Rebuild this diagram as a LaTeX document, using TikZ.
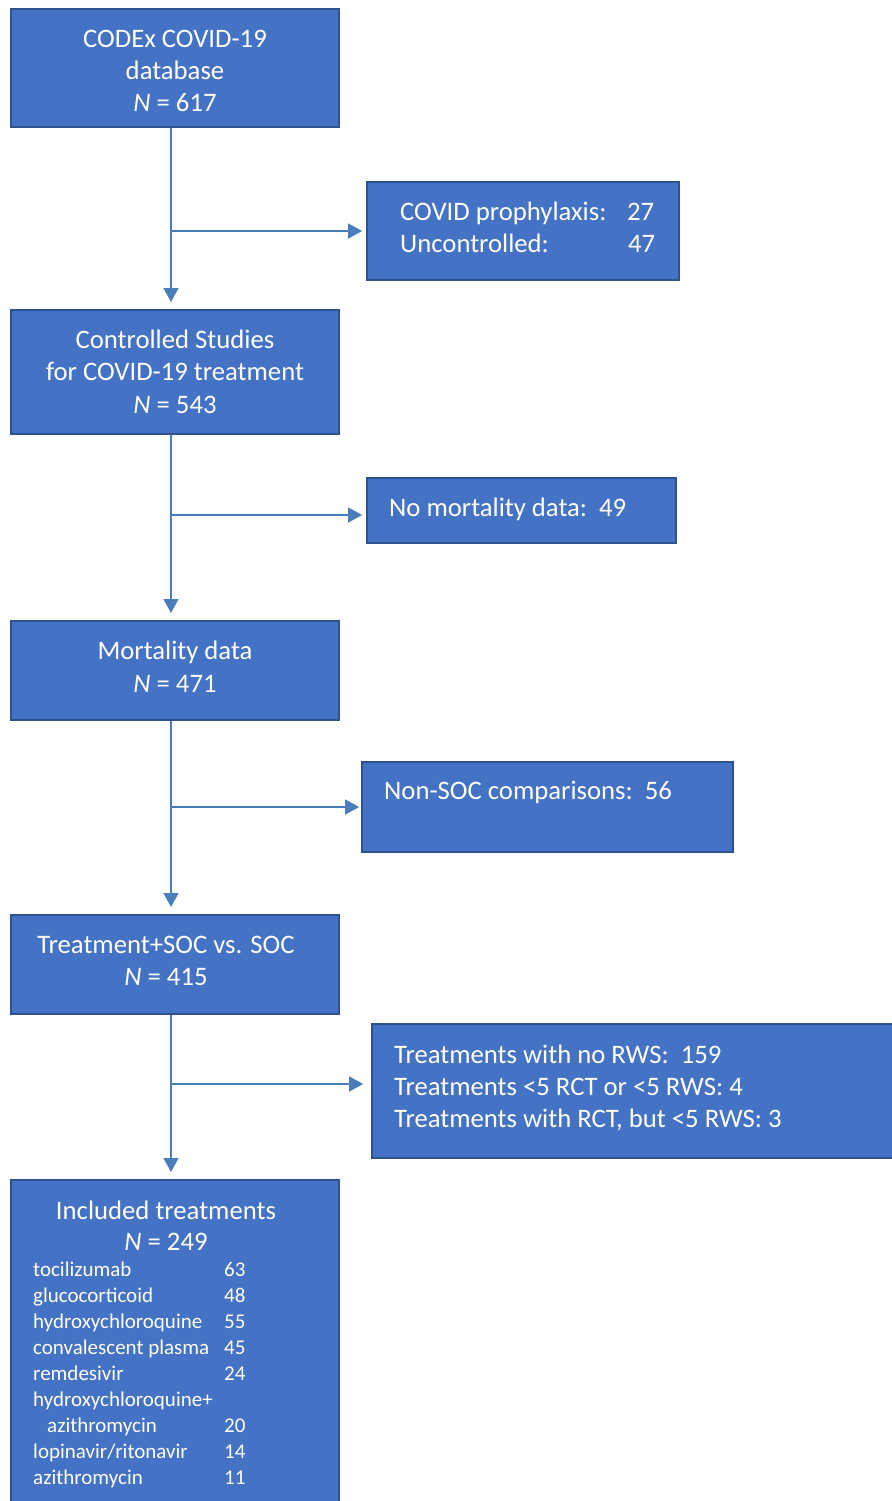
\documentclass[tikz,border=0pt]{standalone}
\usepackage{fontspec}
\setmainfont{Carlito}
\usetikzlibrary{arrows.meta}
\definecolor{boxfill}{HTML}{4472C4}
\definecolor{boxline}{HTML}{2F528F}
\definecolor{arrowc}{HTML}{4A7EBB}
\tikzset{
  box/.style={draw=boxline, line width=1.8pt, fill=boxfill, rectangle, inner sep=0pt},
  big/.style={text=white, font=\fontsize{26.7}{32}\selectfont, inner sep=0pt},
  small/.style={text=white, font=\fontsize{21}{26}\selectfont, inner sep=0pt},
  conn/.style={draw=arrowc, line width=1.6pt, -{Triangle[length=14pt,width=15pt]}},
}
\begin{document}
\begin{tikzpicture}[x=1pt,y=-1pt]
\useasboundingbox (0,0) rectangle (891,1501);
% boxes
\node[box, minimum width=328pt, minimum height=118pt] (b1) at (175,68) {};
\node[box, minimum width=312pt, minimum height=98pt] (b2) at (523,231) {};
\node[box, minimum width=328pt, minimum height=124pt] (b3) at (175,372) {};
\node[box, minimum width=309pt, minimum height=65pt] (b4) at (521.5,510.5) {};
\node[box, minimum width=328pt, minimum height=99pt] (b5) at (175,670.5) {};
\node[box, minimum width=371pt, minimum height=90pt] (b6) at (547.5,807) {};
\node[box, minimum width=328pt, minimum height=99pt] (b7) at (175,964.5) {};
\node[box, minimum width=530pt, minimum height=134pt] (b8) at (637,1091) {};
\node[box, minimum width=328pt, minimum height=340pt] (b9) at (175,1350) {};
% texts
\node[big, anchor=base] (t1a) at (175,48) {CODEx COVID-19};
\node[big, anchor=base] (t1b) at (175,80) {database};
\node[big, anchor=base] (t1c) at (175,112) {\textit{N} = 617};
\node[big, anchor=base west] (t2a) at (400,220) {COVID prophylaxis:};
\node[big, anchor=base west] (t2b) at (627,220) {27};
\node[big, anchor=base west] (t2c) at (400,252) {Uncontrolled:};
\node[big, anchor=base west] (t2d) at (628,252) {47};
\node[big, anchor=base] (t3a) at (175,348) {Controlled Studies};
\node[big, anchor=base] (t3b) at (175,380) {for COVID-19 treatment};
\node[big, anchor=base] (t3c) at (175,413) {\textit{N} = 543};
\node[big, anchor=base west] (t4) at (389,516) {No mortality data:\ \ 49};
\node[big, anchor=base] (t5a) at (175,659) {Mortality data};
\node[big, anchor=base] (t5b) at (175,692) {\textit{N} = 471};
\node[big, anchor=base west] (t6) at (384,799) {Non-SOC comparisons:\ \ 56};
\node[big, anchor=base] (t7a) at (166,953) {Treatment+SOC vs. SOC};
\node[big, anchor=base] (t7b) at (166,985) {\textit{N} = 415};
\node[big, anchor=base west] (t8a) at (394,1063) {Treatments with no RWS:\ \ 159};
\node[big, anchor=base west] (t8b) at (394,1095) {Treatments <5 RCT or <5 RWS: 4};
\node[big, anchor=base west] (t8c) at (394,1127) {Treatments with RCT, but <5 RWS: 3};
\node[big, anchor=base] (t9a) at (166,1219) {Included treatments};
\node[big, anchor=base] (t9b) at (166,1250) {\textit{N} = 249};
\node[small, anchor=north west] (t9c) at (33,1258) {%
\begin{tabular}{@{}p{191pt}@{}l@{}}
tocilizumab & 63\\
glucocorticoid & 48\\
hydroxychloroquine & 55\\
convalescent plasma & 45\\
remdesivir & 24\\
hydroxychloroquine+ & \\
\hspace*{14pt}azithromycin & 20\\
lopinavir/ritonavir & 14\\
azithromycin & 11
\end{tabular}};
% connectors
\coordinate (j1) at (171,231);
\coordinate (j2) at (171,515);
\coordinate (j3) at (171,807);
\coordinate (j4) at (171,1084);
\coordinate (e1) at (171,310);
\coordinate (e2) at (171,621);
\coordinate (e3) at (171,915);
\coordinate (e4) at (171,1180);
\draw[conn, shorten >=8pt] (b1.south -| e1) -- (e1);
\draw[conn, shorten >=8pt] (b3.south -| e2) -- (e2);
\draw[conn, shorten >=8pt] (b5.south -| e3) -- (e3);
\draw[conn, shorten >=8pt] (b7.south -| e4) -- (e4);
\draw[conn, shorten >=4pt] (j1) -- (b2.west |- j1);
\draw[conn, shorten >=4pt] (j2) -- (b4.west |- j2);
\draw[conn, shorten >=2pt] (j3) -- (b6.west |- j3);
\draw[conn, shorten >=8pt] (j4) -- (b8.west |- j4);
\end{tikzpicture}
\end{document}
